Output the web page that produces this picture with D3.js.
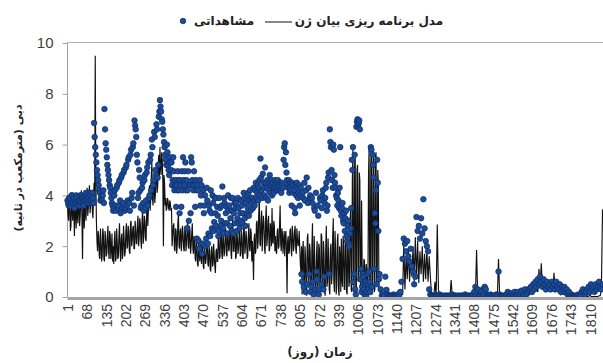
<!DOCTYPE html>
<html>
<head>
<meta charset="utf-8">
<script src="https://cdn.jsdelivr.net/npm/d3@7"></script>
<style>
  body { margin: 0; background: #fff; }
  svg { display: block; }
</style>
</head>
<body>
<svg id="chart" width="603" height="363"></svg>
<script>
// Discharge series. The active period (days 1-1079) is sampled every 2 days,
// the low-flow period that follows (from day 1081) every 4 days.
const earlyStart = 1, earlyStep = 2;
const lateStart = 1081, lateStep = 4;

// Observed discharge (m3/s), days 1-1079
const observedEarly = [
  3.8,3.7,3.6,3.9,3.9,3.6,3.7,4.0,4.0,3.8,3.7,3.9,3.5,3.7,3.8,4.0,3.9,3.7,3.6,3.8,
  3.8,3.6,4.0,3.8,3.7,4.0,3.9,3.7,3.6,3.9,3.8,4.0,4.1,3.8,3.7,4.0,3.9,3.7,3.8,4.1,
  4.0,3.8,3.7,4.1,3.9,3.7,6.85,6.3,5.9,5.6,5.3,5.0,4.8,4.6,4.4,4.2,4.1,3.8,3.9,4.0,
  3.8,4.0,4.2,3.7,7.4,6.6,6.05,5.8,5.5,5.2,5.0,4.8,4.6,4.4,4.3,4.1,3.9,3.7,3.6,3.4,
  3.5,4.0,4.2,3.6,3.4,4.3,4.4,3.5,3.6,4.5,4.6,3.8,3.3,4.7,4.8,3.5,3.7,4.9,5.0,3.4,
  3.5,5.1,5.2,3.6,3.8,5.4,5.5,3.7,3.4,5.6,5.8,3.9,4.1,5.9,6.05,3.6,6.95,6.75,6.6,6.3,
  5.6,5.3,3.9,4.1,5.0,4.7,4.2,3.5,3.6,4.3,4.5,3.7,3.4,4.6,4.8,3.5,3.8,4.9,5.1,3.6,
  5.3,3.9,4.0,5.4,5.6,4.2,6.2,5.9,4.4,4.6,6.5,6.3,5.0,4.8,6.8,6.6,4.7,5.2,7.1,7.3,
  7.75,7.5,7.3,7.0,6.9,6.6,6.4,6.1,5.9,5.6,5.4,5.2,6.0,5.7,5.2,5.0,4.8,5.3,5.5,5.0,
  5.3,4.4,4.6,5.5,4.95,4.2,4.4,4.6,3.55,4.4,4.2,4.95,4.6,4.2,3.3,4.6,4.4,3.55,4.95,4.2,
  5.5,4.6,4.4,4.95,5.3,4.2,4.6,2.7,4.2,4.95,3.0,4.4,4.4,3.3,5.5,5.3,4.6,4.4,4.2,4.95,
  4.4,3.55,4.6,4.2,2.3,4.4,4.2,2.2,1.9,4.6,3.6,4.0,4.4,1.7,2.1,4.2,3.3,3.6,4.0,2.0,
  2.3,4.3,3.8,2.1,2.5,3.6,3.4,2.4,4.2,3.3,2.7,4.0,3.7,2.6,2.95,3.9,3.3,2.8,3.9,3.55,
  3.2,2.4,2.6,3.9,3.5,2.8,3.0,3.6,4.35,2.7,2.5,3.9,3.7,2.9,3.3,3.55,2.9,2.5,4.0,3.4,
  3.6,2.8,3.1,3.9,2.6,3.4,3.9,2.5,3.3,3.7,2.9,3.5,3.7,2.6,3.1,3.9,3.5,2.9,2.7,3.3,
  3.0,3.8,3.6,2.9,3.3,4.1,3.9,3.1,2.8,3.7,4.0,3.3,3.5,4.1,3.2,3.8,4.2,3.4,3.7,3.9,
  3.9,3.5,4.3,3.8,3.6,4.2,4.5,3.9,4.1,4.4,3.8,4.3,4.6,4.0,5.45,4.7,4.2,3.9,4.85,4.5,
  4.3,4.0,5.1,4.5,3.9,4.3,4.6,3.8,4.2,4.5,4.8,4.1,4.4,4.6,4.0,4.3,4.5,4.1,4.3,4.6,
  4.4,4.3,4.2,4.5,4.6,4.2,4.3,4.4,4.5,4.2,4.1,4.5,4.4,4.3,5.4,5.9,6.05,5.2,5.7,4.9,
  4.6,4.4,4.3,4.6,4.1,4.3,4.5,4.2,3.6,4.5,4.4,4.1,4.2,3.5,3.3,4.4,4.0,4.5,4.3,3.9,
  4.1,4.4,3.6,4.0,4.3,0.9,0.6,4.1,3.9,0.4,4.5,3.8,0.2,4.2,4.7,0.5,3.7,4.3,0.9,3.9,
  4.0,0.2,0.4,3.9,3.7,0.6,0.1,3.5,3.4,0.3,4.1,1.0,0.7,3.6,3.2,0.1,0.3,3.9,3.8,0.5,
  3.5,4.0,4.2,0.3,0.8,3.7,3.9,4.3,4.5,3.4,3.6,4.7,4.9,0.9,6.6,6.1,5.9,5.0,4.6,4.3,
  6.0,5.8,4.8,4.5,4.3,4.0,3.9,3.6,4.1,3.8,3.5,4.3,5.9,3.4,3.2,3.5,3.7,3.0,2.9,3.3,
  2.6,3.1,3.4,2.4,2.2,2.8,3.0,2.1,2.0,2.5,2.7,3.5,5.4,5.0,5.9,0.6,0.9,5.6,0.3,0.1,
  6.7,6.9,7.0,6.75,6.85,6.95,6.6,0.7,1.1,0.2,0.4,0.9,0.8,0.3,0.1,0.5,0.6,0.05,0.2,0.9,
  0.5,0.3,1.0,0.6,0.2,5.9,5.8,0.4,5.6,5.2,4.7,1.1,3.3,2.9,4.2,0.5,5.4,4.5,2.6,0.7
];

// Observed discharge (m3/s), from day 1081
const observedLate = [
  0.9,0.3,0.05,0.1,0.05,0.8,0.28,0.1,0.05,0.05,
  0.05,0.05,0.1,0.05,0.05,0.05,0.1,0.05,0.2,0.6,
  1.5,2.3,2.1,1.8,2.2,1.6,1.4,1.9,1.2,1.0,
  0.5,0.8,3.15,2.6,2.8,2.3,3.1,2.5,3.85,2.7,
  2.2,2.0,1.8,0.3,0.1,0.05,0.05,0.05,0.05,0.05,
  0.05,0.05,0.1,0.05,0.05,0.05,0.05,0.05,0.05,0.05,
  0.05,0.05,0.05,0.1,0.05,0.05,0.05,0.05,0.05,0.05,
  0.05,0.05,0.05,0.05,0.1,0.05,0.05,0.05,0.05,0.05,
  0.05,0.1,0.2,0.4,0.1,0.3,0.05,0.05,0.2,0.05,
  0.1,0.4,0.3,0.1,0.05,0.05,0.1,0.05,0.05,0.05,
  0.05,0.1,0.05,1.0,0.1,0.05,0.05,0.05,0.05,0.05,
  0.1,0.2,0.05,0.1,0.15,0.05,0.1,0.2,0.05,0.1,
  0.2,0.05,0.1,0.25,0.05,0.1,0.3,0.1,0.2,0.3,
  0.3,0.4,0.2,0.5,0.3,0.6,0.4,0.7,0.5,0.8,
  0.6,0.4,0.7,0.5,0.3,0.6,0.4,0.5,0.3,0.6,
  0.4,0.5,0.3,0.6,0.4,0.3,0.5,0.2,0.4,0.3,
  0.4,0.2,0.3,0.1,0.2,0.05,0.1,0.05,0.05,0.05,
  0.05,0.05,0.1,0.05,0.05,0.2,0.3,0.2,0.1,0.2,
  0.3,0.4,0.2,0.5,0.3,0.4,0.2,0.5,0.3,0.4,
  0.6,0.4,0.3,0.5
];

// Gene expression programming model (m3/s), days 1-1079
const modelEarly = [
  3.6,3.2,3.0,3.8,3.9,2.6,2.8,3.7,3.5,3.0,4.1,3.4,2.4,3.9,3.3,2.7,3.8,3.2,2.9,3.9,
  3.7,2.8,3.2,3.9,4.2,3.1,1.5,3.6,3.4,2.7,3.9,3.3,3.0,4.0,4.3,3.2,3.5,4.1,4.4,3.3,
  3.6,4.0,4.2,3.4,3.1,3.9,4.5,3.6,9.5,4.8,3.0,2.2,1.8,2.6,2.4,1.6,1.5,2.7,2.2,1.4,
  1.6,2.7,2.5,1.5,1.4,2.6,2.3,1.6,1.7,2.4,2.8,1.8,1.5,2.6,2.4,1.5,1.9,2.5,1.4,2.0,
  1.3,2.2,2.6,1.4,1.5,2.7,2.2,1.5,1.6,2.4,2.9,1.8,1.4,2.3,2.5,1.5,1.7,2.8,2.3,1.6,
  1.8,2.6,2.9,1.9,2.0,2.8,2.6,1.8,1.7,2.9,3.0,2.0,2.2,2.7,2.8,1.9,1.9,3.0,2.7,2.1,
  2.1,2.9,3.2,2.0,2.3,3.1,2.9,2.2,1.9,3.0,3.4,2.1,2.4,3.2,3.0,2.3,2.2,3.3,3.7,2.8,
  3.5,4.1,4.4,3.4,3.8,4.7,5.3,3.9,3.6,4.3,4.6,3.7,4.0,4.8,5.0,4.1,4.3,5.2,5.6,4.6,
  5.9,5.1,4.8,5.7,5.4,4.6,2.0,4.8,4.5,3.6,3.9,3.4,3.5,3.9,3.8,3.5,3.4,3.8,3.7,3.4,
  3.5,2.0,2.4,2.8,2.9,1.9,1.8,2.7,2.6,1.7,2.1,2.9,3.3,2.0,1.9,2.6,2.7,1.8,2.2,2.8,
  2.5,1.9,1.8,2.7,2.8,1.8,2.1,2.6,3.1,2.0,1.9,2.8,2.6,1.7,2.0,2.5,2.9,1.9,1.7,2.4,
  2.2,1.5,1.4,2.3,2.0,1.3,1.2,2.1,1.8,1.4,2.3,1.6,1.3,2.2,1.9,1.2,1.1,2.0,1.7,1.3,
  1.5,2.2,2.1,1.3,1.2,2.0,1.8,1.1,1.0,1.9,2.0,1.2,1.3,2.1,1.6,1.2,0.95,1.8,1.9,1.4,
  1.4,2.5,2.3,1.5,1.6,2.4,2.6,1.7,1.5,2.6,2.2,1.6,1.8,2.5,2.7,1.7,1.6,2.6,2.4,1.8,
  1.9,2.6,2.8,1.7,1.5,2.7,3.2,1.8,1.8,2.6,2.5,1.5,1.6,2.7,2.3,1.7,1.9,2.5,2.6,1.6,
  1.7,2.6,2.4,1.6,1.5,2.8,2.7,1.7,2.0,2.6,2.3,1.5,1.6,2.4,2.9,1.9,1.8,2.7,2.5,1.4,
  2.2,1.6,0.67,2.3,2.5,1.7,1.8,2.9,3.0,1.9,2.2,3.3,3.9,2.1,2.0,3.0,3.4,1.8,2.6,3.2,
  2.9,1.9,1.7,3.1,3.6,2.0,2.3,3.0,3.2,1.8,1.9,2.9,2.7,2.0,3.5,2.2,2.1,3.0,2.8,1.8,
  2.4,1.8,1.7,2.6,2.7,1.9,2.0,2.8,3.6,2.1,1.8,2.7,2.5,1.7,2.2,2.6,1.6,2.4,2.6,1.8,
  0.15,2.2,2.4,1.7,1.8,2.6,2.7,1.9,1.6,2.8,2.5,1.8,2.0,2.6,2.8,1.9,1.7,2.7,2.3,2.0,
  2.1,2.6,1.9,1.3,1.0,2.0,0.1,1.8,2.2,0.6,0.3,2.0,1.6,0.2,0.05,2.3,2.5,0.9,0.4,2.1,
  1.8,0.6,0.1,2.0,2.9,0.3,0.5,2.4,1.4,0.2,0.05,1.7,2.2,0.4,0.8,2.1,1.9,0.1,0.2,2.5,
  2.4,0.5,0.3,2.2,1.7,0.2,0.05,2.0,2.8,0.4,0.6,2.3,1.5,0.3,0.1,1.9,2.1,0.5,0.9,2.4,
  3.1,0.6,0.2,2.6,1.9,0.1,0.5,2.2,2.5,0.3,0.05,2.0,1.6,0.2,2.3,0.7,0.4,2.4,2.0,0.3,
  0.3,2.7,2.4,0.2,0.1,2.2,1.8,0.4,0.6,2.9,3.5,0.3,0.2,4.6,5.8,0.5,0.4,5.3,5.5,0.2,
  0.3,5.0,5.2,0.6,0.8,4.9,4.6,0.3,0.4,3.8,1.2,0.5,0.6,1.5,1.4,0.7,0.5,1.3,1.0,0.4,
  0.7,4.8,5.9,0.3,0.2,5.4,5.6,0.1,0.5,5.8,5.3,0.2,0.3,5.5,5.7,0.6,0.4,5.0,4.5,0.3
];

// Gene expression programming model (m3/s), from day 1081
const modelLate = [
  0.3,0.05,0.02,0.02,0.02,0.02,0.02,0.02,0.02,0.02,
  0.02,0.02,0.02,0.02,0.02,0.02,0.02,0.05,0.02,0.1,
  0.1,2.1,0.3,1.6,0.7,1.9,0.6,1.5,0.8,2.0,
  0.6,2.35,0.7,2.2,0.55,1.8,0.9,2.0,0.6,1.7,
  0.7,1.9,0.6,1.6,0.8,0.1,0.02,0.02,0.6,0.02,
  2.85,0.3,0.02,0.02,0.02,0.02,0.02,0.02,0.02,0.02,
  0.02,0.02,0.67,0.02,0.02,0.02,0.02,0.02,0.02,0.02,
  0.02,0.02,0.02,0.02,0.02,0.02,0.02,0.02,0.02,0.02,
  0.02,0.02,0.02,0.02,1.85,0.02,0.02,0.02,0.4,0.02,
  0.02,0.02,0.3,0.02,0.02,0.02,0.02,0.02,0.02,0.02,
  0.02,0.02,0.02,1.5,0.02,0.02,0.02,0.02,0.02,0.02,
  0.02,0.1,0.02,0.02,0.02,0.02,0.1,0.02,0.02,0.02,
  0.02,0.02,0.1,0.02,0.02,0.02,0.2,0.02,0.1,0.2,
  0.1,0.3,0.2,0.4,0.2,0.5,0.3,0.2,1.1,0.4,
  1.33,0.3,0.5,0.2,0.4,0.3,0.6,0.2,0.4,0.3,
  0.3,0.95,0.2,0.4,0.3,0.2,0.3,0.1,0.2,0.1,
  0.1,0.05,0.02,0.02,0.02,0.02,0.02,0.02,0.02,0.02,
  0.02,0.02,0.02,0.02,0.02,0.02,0.1,0.02,0.02,0.02,
  0.02,0.02,0.1,0.02,0.02,0.02,0.02,0.02,0.02,0.02,
  0.05,0.05,0.3,3.45
];

const xTickDays = [1,68,135,202,269,336,403,470,537,604,671,738,805,872,939,1006,1073,1140,1207,1274,1341,1408,1475,1542,1609,1676,1743,1810];
const yTicks = [0,2,4,6,8,10];

const legendObserved = "مشاهداتی";
const legendModel = "مدل برنامه ریزی بیان ژن";
const xTitle = "زمان (روز)";
const yTitle = "دبی (مترمکعب در ثانیه)";

const RLM = "\u200F";
const persianFont = "'DejaVu Sans', sans-serif";
const numberFont = "'Liberation Sans', Arial, sans-serif";

const svg = d3.select("#chart");

const plotLeft = 67.5, plotRight = 603, plotTop = 42.5, plotBottom = 297;

const x = d3.scaleLinear().domain([1, 1810]).range([67.5, 590.1]);
const y = d3.scaleLinear().domain([0, 10]).range([297, 43]);

const toPoints = (vals, start, step) => vals.map((v, i) => [start + i * step, v]);
const modelPts = toPoints(modelEarly, earlyStart, earlyStep)
  .concat(toPoints(modelLate, lateStart, lateStep));
const obsPts = toPoints(observedEarly, earlyStart, earlyStep)
  .concat(toPoints(observedLate, lateStart, lateStep));

// plot frame: top border
svg.append("line")
  .attr("x1", plotLeft).attr("x2", plotRight)
  .attr("y1", plotTop).attr("y2", plotTop)
  .attr("stroke", "#b4b4b4").attr("stroke-width", 1);

// y axis
const yAxis = svg.append("g")
  .attr("transform", `translate(${plotLeft},0)`)
  .call(d3.axisLeft(y).tickValues(yTicks).tickSize(5).tickSizeOuter(0).tickPadding(9));
yAxis.select(".domain").attr("stroke", "#a0a0a0").attr("d", `M0,${plotTop}V${plotBottom}`);
yAxis.selectAll(".tick line").attr("stroke", "#a0a0a0");
yAxis.selectAll(".tick text")
  .attr("font-family", numberFont).attr("font-size", 15).attr("fill", "#404040");

// model line
const line = d3.line().x(d => x(d[0])).y(d => y(d[1]));
svg.append("path")
  .datum(modelPts)
  .attr("d", line)
  .attr("fill", "none")
  .attr("stroke", "#111")
  .attr("stroke-width", 1.15)
  .attr("stroke-linejoin", "miter");

// observed points
svg.append("g").selectAll("circle")
  .data(obsPts)
  .join("circle")
  .attr("cx", d => x(d[0]))
  .attr("cy", d => y(d[1]))
  .attr("r", 2.8)
  .attr("fill", "#1d4c97")
  .attr("stroke", "#0c2c68")
  .attr("stroke-width", 0.7);

// x axis (category labels, rotated)
const xAxis = svg.append("g")
  .attr("transform", `translate(0,${plotBottom})`)
  .call(d3.axisBottom(x).tickValues(xTickDays).tickSize(0).tickFormat(d3.format("d")));
xAxis.select(".domain").remove();
xAxis.selectAll(".tick text")
  .attr("font-family", numberFont).attr("font-size", 14).attr("fill", "#404040")
  .attr("transform", "rotate(-90)")
  .attr("x", -7).attr("y", 0).attr("dy", "0.35em")
  .style("text-anchor", "end");

// baseline bar along zero
svg.append("line")
  .attr("x1", plotLeft).attr("x2", plotRight)
  .attr("y1", plotBottom + 1.5).attr("y2", plotBottom + 1.5)
  .attr("stroke", "#a6a6a6").attr("stroke-width", 3);

// axis titles
svg.append("text")
  .attr("x", 320).attr("y", 356)
  .attr("direction", "rtl")
  .attr("text-anchor", "middle")
  .attr("font-family", persianFont).attr("font-weight", "bold").attr("font-size", 12)
  .attr("fill", "#222")
  .text(RLM + xTitle + RLM);

svg.append("text")
  .attr("transform", "translate(22,168) rotate(-90)")
  .attr("direction", "rtl")
  .attr("text-anchor", "middle")
  .attr("font-family", persianFont).attr("font-weight", "bold").attr("font-size", 11)
  .attr("fill", "#222")
  .text(RLM + yTitle + RLM);

// legend
const legend = svg.append("g");
legend.append("circle")
  .attr("cx", 183).attr("cy", 21).attr("r", 2.8)
  .attr("fill", "#1d4c97").attr("stroke", "#0c2c68").attr("stroke-width", 0.7);
legend.append("text")
  .attr("x", 224).attr("y", 25)
  .attr("direction", "rtl")
  .attr("text-anchor", "middle")
  .attr("font-family", persianFont).attr("font-weight", "bold").attr("font-size", 12)
  .attr("fill", "#222")
  .text(RLM + legendObserved + RLM);
legend.append("line")
  .attr("x1", 265).attr("x2", 292).attr("y1", 22).attr("y2", 22)
  .attr("stroke", "#111").attr("stroke-width", 1);
legend.append("text")
  .attr("x", 369).attr("y", 25)
  .attr("direction", "rtl")
  .attr("text-anchor", "middle")
  .attr("font-family", persianFont).attr("font-weight", "bold").attr("font-size", 12)
  .attr("fill", "#222")
  .text(RLM + legendModel + RLM);
</script>
</body>
</html>
